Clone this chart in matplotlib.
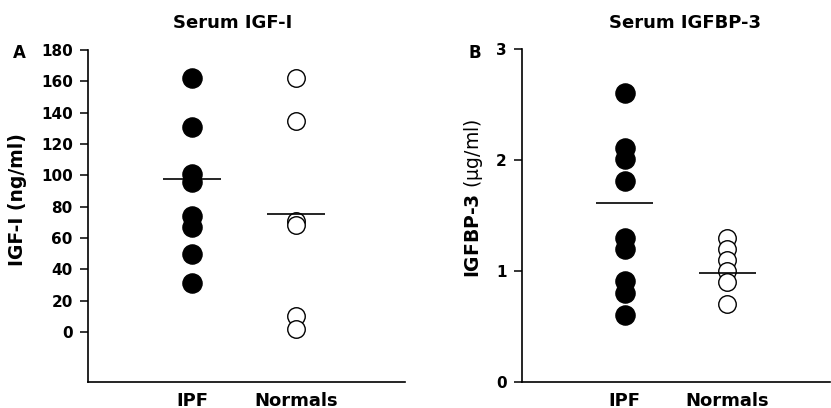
import matplotlib
matplotlib.use("Agg")
import matplotlib.pyplot as plt

plt.rcParams["font.family"] = ["DejaVu Sans"]
plt.rcParams["mathtext.fontset"] = "custom"
plt.rcParams["mathtext.rm"] = "DejaVu Sans:normal"
plt.rcParams["mathtext.it"] = "DejaVu Sans:italic"
plt.rcParams["mathtext.bf"] = "DejaVu Sans:bold"

# group names
groups = ["IPF", "Normals"]

# panel A: serum IGF-I (ng/ml)
igf_ipf = [162, 131, 101, 96, 74, 67, 50, 31]
igf_normals = [162, 135, 71, 68, 10, 1.5]
igf_means = [97.5, 75.5]

# panel B: serum IGFBP-3 (ug/ml)
bp3_ipf = [2.61, 2.11, 2.01, 1.81, 1.30, 1.20, 0.91, 0.80, 0.60]
bp3_normals = [1.30, 1.20, 1.10, 1.00, 0.90, 0.70]
bp3_means = [1.61, 0.98]

fig = plt.figure(figsize=(8.31, 4.08), dpi=100)
ax_a = fig.add_axes([0.106, 0.064, 0.381, 0.813])
ax_b = fig.add_axes([0.628, 0.064, 0.371, 0.815])


def draw_panel(ax, ipf, normals, means):
    ax.plot([1] * len(ipf), ipf, "o", ms=13.8, color="black", clip_on=False)
    ax.plot([2] * len(normals), normals, "o", ms=12.6, mfc="white",
            mec="black", mew=1.0, clip_on=False)
    for pos, m in zip([1, 2], means):
        ax.hlines(m, pos - 0.28, pos + 0.28, color="black", lw=1.2)
    ax.set_xticks([1, 2])
    ax.set_xticklabels(groups, fontsize=13, fontweight="bold")
    ax.tick_params(axis="x", length=0, pad=7)
    ax.tick_params(axis="y", length=6, width=1.1, pad=5, labelsize=11)
    for lab in ax.get_yticklabels():
        lab.set_fontweight("bold")
    ax.spines["top"].set_visible(False)
    ax.spines["right"].set_visible(False)
    ax.spines["left"].set_linewidth(1.2)
    ax.spines["bottom"].set_linewidth(1.2)


draw_panel(ax_a, igf_ipf, igf_normals, igf_means)
ax_a.set_xlim(0, 3.05)
ax_a.set_ylim(-32, 180)
ax_a.set_yticks(range(0, 181, 20))
ax_a.set_ylabel("IGF-I (ng/ml)", fontsize=13.5, fontweight="bold")
ax_a.yaxis.set_label_coords(-0.192, 0.551)

draw_panel(ax_b, bp3_ipf, bp3_normals, bp3_means)
ax_b.set_xlim(0, 3.0)
ax_b.set_ylim(0, 3)
ax_b.set_yticks([0, 1, 2, 3])
ax_b.set_ylabel(r"IGFBP-3 $\mathrm{(\mu g/ml)}$", fontsize=13.5,
                fontweight="bold")
ax_b.yaxis.set_label_coords(-0.119, 0.551)

fig.text(233 / 831, 1 - 28 / 408, "Serum IGF-I", ha="center", va="baseline",
         fontsize=13, fontweight="bold")
fig.text(685 / 831, 1 - 28 / 408, "Serum IGFBP-3", ha="center", va="baseline",
         fontsize=13, fontweight="bold")
fig.text(19.7 / 831, 1 - 58.3 / 408, "A", ha="center", va="baseline",
         fontsize=12, fontweight="bold")
fig.text(475 / 831, 1 - 58.3 / 408, "B", ha="center", va="baseline",
         fontsize=12, fontweight="bold")

fig.savefig("out.png", dpi=100)
